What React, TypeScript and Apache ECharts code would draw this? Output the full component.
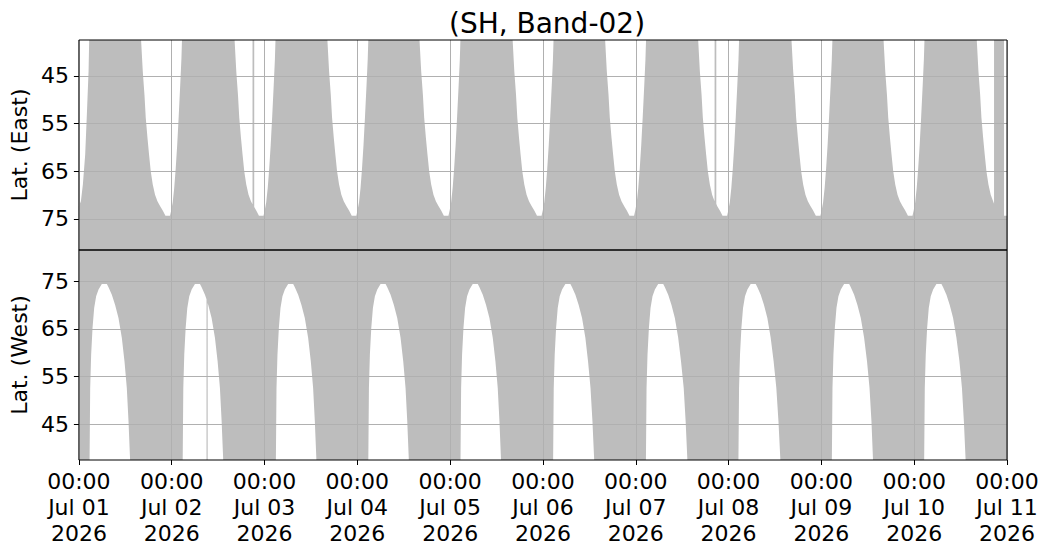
import React, { useEffect, useRef } from "react";
import * as echarts from "echarts";

// ---- data (hours since 2026-07-01 00:00, latitude) ----
const titleText = "(SH, Band-02)";
const eastName = "Lat. (East)";
const westName = "Lat. (West)";
const timeLabel = "00:00";
const yearLabel = "2026";
const dayLabels = ["Jul 01", "Jul 02", "Jul 03", "Jul 04", "Jul 05", "Jul 06", "Jul 07", "Jul 08", "Jul 09", "Jul 10", "Jul 11"];
const latTicks = [45, 55, 65, 75];
const latMin = 37.5;
const latMax = 81.5;
const hourMax = 240;

// lower edge of coverage (gray from this latitude up to latMax), East
const eastEdge = [
  [0, 72.3], [0.52, 71.3], [1.03, 67.8], [1.63, 61.5], [2.06, 53.1], [2.5, 44.1], [2.66, 37.5],
  [16.08, 37.5], [16.52, 44.1], [16.96, 49.0], [17.29, 53.8], [17.73, 58.0], [18.14, 61.5], [18.58, 65.0], [19.1, 67.8], [19.69, 69.9], [20.31, 71.3], [20.98, 72.3], [21.68, 73.2], [22.38, 74.3],
  [23.56, 74.3], [23.87, 73.2], [24.26, 71.5], [24.65, 68.5], [25.03, 64.5], [25.42, 59.5], [25.81, 53.5], [26.2, 47.0], [26.51, 41.5], [26.66, 37.5],
  [40.26, 37.5], [40.7, 44.1], [41.14, 49.0], [41.47, 53.8], [41.91, 58.0], [42.32, 61.5], [42.76, 65.0], [43.28, 67.8], [43.87, 69.9], [44.49, 71.3], [44.9, 71.9], [44.9, 37.5], [45.34, 37.5], [45.34, 72.5], [45.86, 73.2], [46.56, 74.3],
  [47.74, 74.3], [48.05, 73.2], [48.44, 71.5], [48.83, 68.5], [49.21, 64.5], [49.6, 59.5], [49.99, 53.5], [50.38, 47.0], [50.69, 41.5], [50.84, 37.5],
  [64.26, 37.5], [64.7, 44.1], [65.14, 49.0], [65.47, 53.8], [65.91, 58.0], [66.32, 61.5], [66.76, 65.0], [67.28, 67.8], [67.87, 69.9], [68.49, 71.3], [69.16, 72.3], [69.86, 73.2], [70.56, 74.3],
  [71.74, 74.3], [72.05, 73.2], [72.44, 71.5], [72.83, 68.5], [73.21, 64.5], [73.6, 59.5], [73.99, 53.5], [74.38, 47.0], [74.69, 41.5], [74.84, 37.5],
  [88.08, 37.5], [88.52, 44.1], [88.96, 49.0], [89.29, 53.8], [89.73, 58.0], [90.14, 61.5], [90.58, 65.0], [91.1, 67.8], [91.69, 69.9], [92.31, 71.3], [92.98, 72.3], [93.68, 73.2], [94.38, 74.3],
  [95.56, 74.3], [95.87, 73.2], [96.26, 71.5], [96.65, 68.5], [97.03, 64.5], [97.42, 59.5], [97.81, 53.5], [98.2, 47.0], [98.51, 41.5], [98.66, 37.5],
  [112.16, 37.5], [112.6, 44.1], [113.04, 49.0], [113.37, 53.8], [113.81, 58.0], [114.22, 61.5], [114.66, 65.0], [115.18, 67.8], [115.77, 69.9], [116.39, 71.3], [117.06, 72.3], [117.76, 73.2], [118.46, 74.3],
  [119.64, 74.3], [119.95, 73.2], [120.34, 71.5], [120.73, 68.5], [121.11, 64.5], [121.5, 59.5], [121.89, 53.5], [122.28, 47.0], [122.59, 41.5], [122.74, 37.5],
  [136.08, 37.5], [136.52, 44.1], [136.96, 49.0], [137.29, 53.8], [137.73, 58.0], [138.14, 61.5], [138.58, 65.0], [139.1, 67.8], [139.69, 69.9], [140.31, 71.3], [140.98, 72.3], [141.68, 73.2], [142.38, 74.3],
  [143.56, 74.3], [143.87, 73.2], [144.26, 71.5], [144.65, 68.5], [145.03, 64.5], [145.42, 59.5], [145.81, 53.5], [146.2, 47.0], [146.51, 41.5], [146.66, 37.5],
  [160.14, 37.5], [160.58, 44.1], [161.02, 49.0], [161.35, 53.8], [161.79, 58.0], [162.2, 61.5], [162.64, 65.0], [163.16, 67.8], [163.75, 69.9], [164.37, 71.3], [164.39, 37.5], [164.83, 37.5], [164.83, 71.8], [165.04, 72.3], [165.74, 73.2], [166.44, 74.3],
  [167.62, 74.3], [167.93, 73.2], [168.32, 71.5], [168.71, 68.5], [169.09, 64.5], [169.48, 59.5], [169.87, 53.5], [170.26, 47.0], [170.57, 41.5], [170.72, 37.5],
  [184.27, 37.5], [184.71, 44.1], [185.15, 49.0], [185.48, 53.8], [185.92, 58.0], [186.33, 61.5], [186.77, 65.0], [187.29, 67.8], [187.88, 69.9], [188.5, 71.3], [189.17, 72.3], [189.87, 73.2], [190.57, 74.3],
  [191.75, 74.3], [192.06, 73.2], [192.45, 71.5], [192.84, 68.5], [193.22, 64.5], [193.61, 59.5], [194.0, 53.5], [194.39, 47.0], [194.7, 41.5], [194.85, 37.5],
  [208.08, 37.5], [208.52, 44.1], [208.96, 49.0], [209.29, 53.8], [209.73, 58.0], [210.14, 61.5], [210.58, 65.0], [211.1, 67.8], [211.69, 69.9], [212.31, 71.3], [212.98, 72.3], [213.68, 73.2], [214.38, 74.3],
  [215.56, 74.3], [215.87, 73.2], [216.26, 71.5], [216.65, 68.5], [217.03, 64.5], [217.42, 59.5], [217.81, 53.5], [218.2, 47.0], [218.51, 41.5], [218.66, 37.5],
  [232.18, 37.5], [232.62, 44.1], [233.06, 49.0], [233.39, 53.8], [233.83, 58.0], [234.24, 61.5], [234.68, 65.0], [235.2, 67.8], [235.79, 69.9], [236.41, 71.3], [236.65, 71.8],
  [236.65, 37.5], [239.23, 37.5], [239.23, 74.3], [240, 74.3],
];

// lower edge of coverage (gray from this latitude up to latMax), West
const westEdge = [
  [0, 37.5],
  [2.76, 37.5], [2.84, 45.0], [2.92, 52.6], [3.17, 59.6], [3.53, 65.2], [3.95, 69.35], [4.46, 71.8], [5.08, 73.2], [5.93, 74.4],
  [7.23, 74.4], [7.66, 73.7], [8.52, 72.1], [9.37, 70.0], [10.24, 67.25], [11.1, 63.1], [11.79, 58.2], [12.39, 52.6], [12.83, 45.6], [13.24, 37.5],
  [26.84, 37.5], [26.92, 45.0], [27.0, 52.6], [27.25, 59.6], [27.61, 65.2], [28.03, 69.35], [28.54, 71.8], [29.16, 73.2], [30.01, 74.4],
  [31.31, 74.4], [31.74, 73.7], [32.6, 72.1], [33.0, 71.2], [33.0, 37.5], [33.3, 37.5], [33.3, 70.4], [33.45, 70.0], [34.32, 67.25], [35.18, 63.1], [35.87, 58.2], [36.47, 52.6], [36.91, 45.6], [37.32, 37.5],
  [50.94, 37.5], [51.02, 45.0], [51.1, 52.6], [51.35, 59.6], [51.71, 65.2], [52.13, 69.35], [52.64, 71.8], [53.26, 73.2], [54.11, 74.4],
  [55.41, 74.4], [55.84, 73.7], [56.7, 72.1], [57.55, 70.0], [58.42, 67.25], [59.28, 63.1], [59.97, 58.2], [60.57, 52.6], [61.01, 45.6], [61.42, 37.5],
  [74.84, 37.5], [74.92, 45.0], [75.0, 52.6], [75.25, 59.6], [75.61, 65.2], [76.03, 69.35], [76.54, 71.8], [77.16, 73.2], [78.01, 74.4],
  [79.31, 74.4], [79.74, 73.7], [80.6, 72.1], [81.45, 70.0], [82.32, 67.25], [83.18, 63.1], [83.87, 58.2], [84.47, 52.6], [84.91, 45.6], [85.32, 37.5],
  [98.68, 37.5], [98.76, 45.0], [98.84, 52.6], [99.09, 59.6], [99.45, 65.2], [99.87, 69.35], [100.38, 71.8], [101.0, 73.2], [101.85, 74.4],
  [103.15, 74.4], [103.58, 73.7], [104.44, 72.1], [105.29, 70.0], [106.16, 67.25], [107.02, 63.1], [107.71, 58.2], [108.31, 52.6], [108.75, 45.6], [109.16, 37.5],
  [122.63, 37.5], [122.71, 45.0], [122.79, 52.6], [123.04, 59.6], [123.4, 65.2], [123.82, 69.35], [124.33, 71.8], [124.95, 73.2], [125.8, 74.4],
  [127.1, 74.4], [127.53, 73.7], [128.39, 72.1], [129.24, 70.0], [130.11, 67.25], [130.97, 63.1], [131.66, 58.2], [132.3, 52.6], [132.8, 45.6], [133.25, 37.5],
  [146.63, 37.5], [146.71, 45.0], [146.79, 52.6], [147.04, 59.6], [147.4, 65.2], [147.82, 69.35], [148.33, 71.8], [148.95, 73.2], [149.8, 74.4],
  [151.1, 74.4], [151.53, 73.7], [152.39, 72.1], [153.24, 70.0], [154.11, 67.25], [154.97, 63.1], [155.7, 58.2], [156.4, 52.6], [156.9, 45.6], [157.35, 37.5],
  [170.55, 37.5], [170.63, 45.0], [170.71, 52.6], [170.96, 59.6], [171.32, 65.2], [171.74, 69.35], [172.25, 71.8], [172.87, 73.2], [173.72, 74.4],
  [175.02, 74.4], [175.45, 73.7], [176.31, 72.1], [177.16, 70.0], [178.03, 67.25], [178.89, 63.1], [179.65, 58.2], [180.35, 52.6], [180.9, 45.6], [181.4, 37.5],
  [194.71, 37.5], [194.79, 45.0], [194.87, 52.6], [195.12, 59.6], [195.48, 65.2], [195.9, 69.35], [196.41, 71.8], [197.03, 73.2], [197.88, 74.4],
  [199.18, 74.4], [199.61, 73.7], [200.47, 72.1], [201.32, 70.0], [202.19, 67.25], [203.05, 63.1], [203.8, 58.2], [204.45, 52.6], [204.95, 45.6], [205.35, 37.5],
  [218.58, 37.5], [218.66, 45.0], [218.74, 52.6], [218.99, 59.6], [219.35, 65.2], [219.77, 69.35], [220.28, 71.8], [220.9, 73.2], [221.75, 74.4],
  [223.05, 74.4], [223.48, 73.7], [224.34, 72.1], [225.19, 70.0], [226.06, 67.25], [226.92, 63.1], [227.7, 58.2], [228.35, 52.6], [228.85, 45.6], [229.3, 37.5],
  [240, 37.5],
];

const GRAY = "#bdbdbd";
const GRID_COLOR = "#b0b0b0";
const FONT = "DejaVu Sans";

export default function App() {
  const ref = useRef<HTMLDivElement>(null);
  useEffect(() => {
    if (!ref.current) return;
    const chart = echarts.init(ref.current, undefined, { renderer: "svg" });
    const xFormatter = (v: number) => {
      const i = Math.round(v / 24);
      return `${timeLabel}\n${dayLabels[i] ?? ""}\n${yearLabel}`;
    };
    const yAxisBase = (gridIndex: number, inverse: boolean, name: string) => ({
      type: "value",
      gridIndex,
      min: latMin,
      max: latMax,
      inverse,
      z: 4,
      name,
      nameLocation: "middle",
      nameRotate: 90,
      nameGap: 46,
      nameTextStyle: { fontFamily: FONT, fontSize: 22, color: "#000" },
      axisLine: { show: false },
      axisTick: { show: true, inside: false, length: 5, lineStyle: { color: "#000", width: 1 }, customValues: latTicks },
      axisLabel: { show: true, margin: 10, fontFamily: FONT, fontSize: 22, color: "#000", customValues: latTicks },
      splitLine: { show: true, lineStyle: { color: GRID_COLOR, width: 1 } },
    });
    const xAxisBase = (gridIndex: number, showLabels: boolean) => ({
      type: "value",
      gridIndex,
      min: 0,
      max: hourMax,
      interval: 24,
      z: 4,
      axisLine: { show: false },
      axisTick: { show: showLabels, inside: false, length: 5, lineStyle: { color: "#000", width: 1 } },
      axisLabel: {
        show: showLabels,
        margin: 8,
        fontFamily: FONT,
        fontSize: 22,
        lineHeight: 26,
        color: "#000",
        showMinLabel: true,
        showMaxLabel: true,
        formatter: xFormatter,
      },
      splitLine: { show: true, lineStyle: { color: GRID_COLOR, width: 1 } },
    });
    chart.setOption({
      animation: false,
      backgroundColor: "#fff",
      title: {
        text: titleText,
        left: 542,
        top: 4,
        textAlign: "center",
        textStyle: { fontFamily: FONT, fontSize: 28, fontWeight: "normal", color: "#000" },
      },
      grid: [
        { left: 77, top: 40, width: 930, height: 210, show: true, borderColor: "#000", borderWidth: 1, backgroundColor: "transparent", z: 5 },
        { left: 77, top: 250, width: 930, height: 210, show: true, borderColor: "#000", borderWidth: 1, backgroundColor: "transparent", z: 5 },
      ],
      xAxis: [xAxisBase(0, false), xAxisBase(1, true)],
      yAxis: [yAxisBase(0, true, eastName), yAxisBase(1, false, westName)],
      series: [
        {
          type: "line",
          name: "East",
          xAxisIndex: 0,
          yAxisIndex: 0,
          data: eastEdge,
          symbol: "none",
          showSymbol: false,
          silent: true,
          z: 2,
          lineStyle: { width: 0, opacity: 0 },
          areaStyle: { color: GRAY, opacity: 1, origin: "end" },
        },
        {
          type: "line",
          name: "West",
          xAxisIndex: 1,
          yAxisIndex: 1,
          data: westEdge,
          symbol: "none",
          showSymbol: false,
          silent: true,
          z: 2,
          lineStyle: { width: 0, opacity: 0 },
          areaStyle: { color: GRAY, opacity: 1, origin: "end" },
        },
      ],
    });
    return () => chart.dispose();
  }, []);
  return <div ref={ref} style={{ position: "absolute", left: 0, top: 0, width: 1049, height: 556 }} />;
}
